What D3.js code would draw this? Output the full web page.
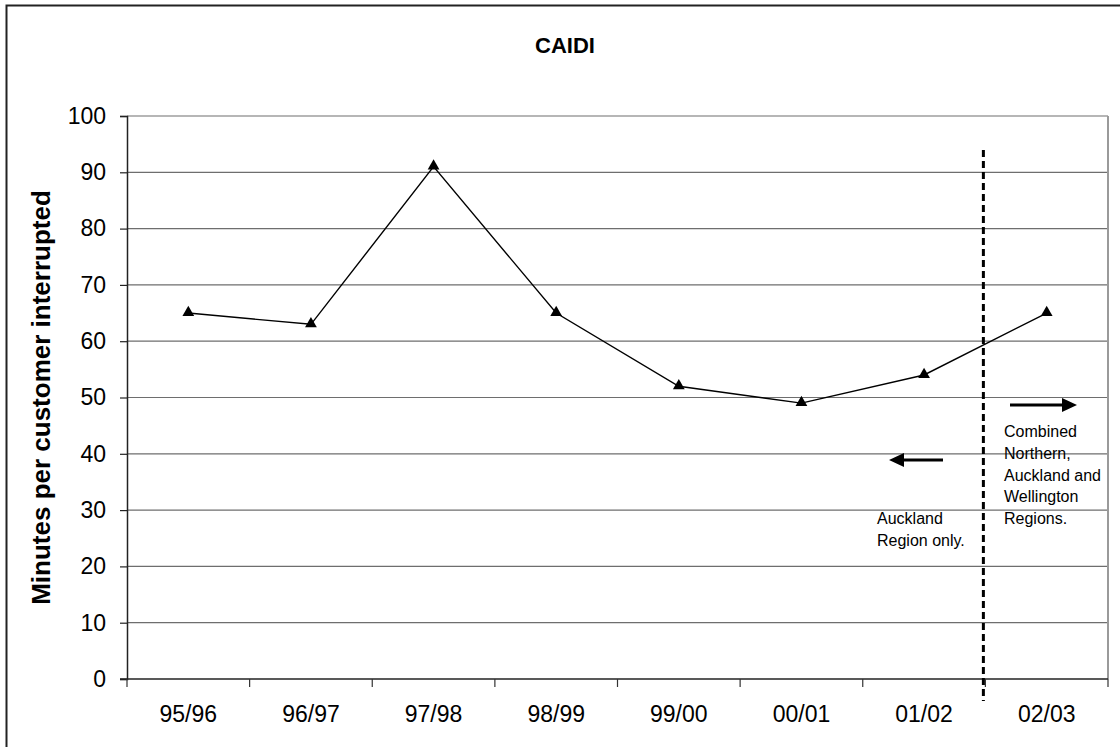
<!DOCTYPE html>
<html>
<head>
<meta charset="utf-8">
<script src="https://cdn.jsdelivr.net/npm/d3@7"></script>
<style>
  html, body { margin: 0; padding: 0; background: #fff; }
  svg { display: block; font-family: Arial, "Liberation Sans", sans-serif; }
</style>
</head>
<body>
<svg id="chart" width="1120" height="747"></svg>
<script>
// CAIDI by financial year
const years = ["95/96", "96/97", "97/98", "98/99", "99/00", "00/01", "01/02", "02/03"];
const caidi = [65, 63, 91, 65, 52, 49, 54, 65];
const yTicks = [0, 10, 20, 30, 40, 50, 60, 70, 80, 90, 100];
const leftNote = ["Auckland", "Region only."];
const rightNote = ["Combined", "Northern,", "Auckland and", "Wellington", "Regions."];

const svg = d3.select("#chart");
const plot = { left: 127, right: 1108, top: 116, bottom: 679 };

// outer chart frame
svg.append("rect")
  .attr("x", 6.5).attr("y", 5.5)
  .attr("width", 1130).attr("height", 760)
  .attr("fill", "none").attr("stroke", "#222").attr("stroke-width", 2);

const x = d3.scaleBand().domain(years).range([plot.left, plot.right]).paddingInner(0).paddingOuter(0);
const y = d3.scaleLinear().domain([0, 100]).range([plot.bottom, plot.top]);

// horizontal gridlines
svg.append("g").selectAll("line").data(yTicks.filter(d => d > 0)).join("line")
  .attr("x1", plot.left).attr("x2", plot.right)
  .attr("y1", d => y(d)).attr("y2", d => y(d))
  .attr("stroke", "#6e6e6e").attr("stroke-width", 1.2);

// right edge of plot area
svg.append("line")
  .attr("x1", plot.right).attr("x2", plot.right)
  .attr("y1", plot.top).attr("y2", plot.bottom)
  .attr("stroke", "#9a9a9a").attr("stroke-width", 2);

// y axis
const yAxis = svg.append("g")
  .attr("transform", `translate(${plot.left},0)`)
  .call(d3.axisLeft(y).tickValues(yTicks).tickSize(7).tickPadding(14).tickFormat(d3.format("d")));
yAxis.select(".domain").attr("stroke", "#222").attr("stroke-width", 1.5);
yAxis.selectAll(".tick line").attr("stroke", "#222").attr("stroke-width", 1.2);
yAxis.selectAll("text").attr("font-size", 23).attr("fill", "#000")
  .attr("font-family", "Arial, 'Liberation Sans', sans-serif");

// x axis with ticks on category boundaries
const boundaries = years.map(d => x(d)).concat([plot.right]);
const xg = svg.append("g").attr("transform", `translate(0,${plot.bottom})`);
xg.append("line").attr("x1", plot.left - 7).attr("x2", plot.right)
  .attr("stroke", "#222").attr("stroke-width", 1.5);
xg.selectAll(".tk").data(boundaries).join("line").attr("class", "tk")
  .attr("x1", d => d).attr("x2", d => d).attr("y1", 0).attr("y2", 8)
  .attr("stroke", "#333").attr("stroke-width", 1.2);
xg.selectAll(".lbl").data(years).join("text").attr("class", "lbl")
  .attr("x", d => x(d) + x.bandwidth() / 2).attr("y", 43)
  .attr("text-anchor", "middle").attr("font-size", 23).attr("fill", "#000")
  .text(d => d);

// title
svg.append("text").attr("x", 565).attr("y", 53)
  .attr("text-anchor", "middle").attr("font-size", 22).attr("font-weight", "bold")
  .text("CAIDI");

// y-axis title
svg.append("text")
  .attr("transform", `translate(50,${(plot.top + plot.bottom) / 2}) rotate(-90)`)
  .attr("text-anchor", "middle").attr("font-size", 26).attr("font-weight", "bold")
  .text("Minutes per customer interrupted");

// series line
const cx = d => x(d) + x.bandwidth() / 2;
svg.append("path").datum(years.map((d, i) => [cx(d), y(caidi[i])]))
  .attr("d", d3.line())
  .attr("fill", "none").attr("stroke", "#000").attr("stroke-width", 1.4);

// triangle markers
const tri = d3.symbol().type(d3.symbolTriangle).size(60);
svg.append("g").selectAll("path").data(years).join("path")
  .attr("d", tri)
  .attr("transform", (d, i) => `translate(${cx(d)},${y(caidi[i]) - 0.5})`)
  .attr("fill", "#000");

// region change divider
const divX = x("01/02") + x.bandwidth() - 2;
svg.append("line")
  .attr("x1", divX).attr("x2", divX).attr("y1", 150).attr("y2", 701)
  .attr("stroke", "#000").attr("stroke-width", 3).attr("stroke-dasharray", "7,4");

// arrows
const defs = svg.append("defs");
function arrow(x1, x2, yy) {
  svg.append("line").attr("x1", x1).attr("x2", x2 > x1 ? x2 - 12 : x2 + 12)
    .attr("y1", yy).attr("y2", yy).attr("stroke", "#000").attr("stroke-width", 3);
  const dir = x2 > x1 ? -1 : 1;
  svg.append("path")
    .attr("d", `M${x2},${yy} L${x2 + dir * 15},${yy - 7} L${x2 + dir * 15},${yy + 7} Z`)
    .attr("fill", "#000");
}
arrow(1010, 1077, 405);
arrow(943, 889, 460);

// annotations
svg.append("g").selectAll("text").data(rightNote).join("text")
  .attr("x", 1004).attr("y", (d, i) => 437 + i * 21.8)
  .attr("font-size", 16).attr("fill", "#000").text(d => d);
svg.append("g").selectAll("text").data(leftNote).join("text")
  .attr("x", 877).attr("y", (d, i) => 524 + i * 21.8)
  .attr("font-size", 16).attr("fill", "#000").text(d => d);
</script>
</body>
</html>
